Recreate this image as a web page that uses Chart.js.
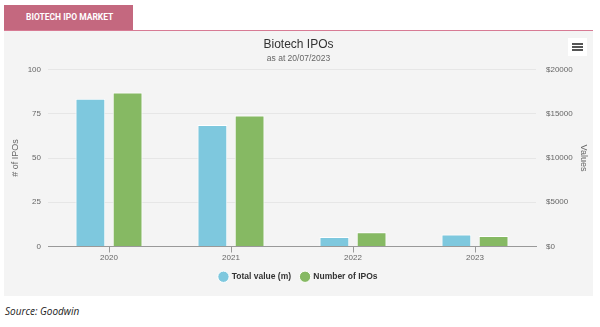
<!DOCTYPE html>
<html>
<head>
<meta charset="utf-8">
<script src="https://cdn.jsdelivr.net/npm/chart.js@4"></script>
<style>
  body { margin: 0; background: #fff; font-family: "Liberation Sans", Arial, sans-serif; }
  .tab {
    position: absolute; left: 4px; top: 5px; width: 129px; height: 25px;
    background: #c4687f; color: #fff; font: bold 8.5px "Roboto", sans-serif;
    line-height: 25px; box-sizing: border-box; padding-left: 22px;
  }
  .rule { position: absolute; left: 4px; top: 30px; width: 589px; height: 1px; background: #d77b94; }
  .box { position: absolute; left: 4px; top: 31px; width: 589px; height: 265px; background: #f4f4f4; }
  .menu {
    position: absolute; right: 6px; top: 7px; width: 19px; height: 18px; background: #fff;
  }
  .menu span { position: absolute; left: 4px; width: 11px; height: 2px; background: #555; }
  .source { position: absolute; left: 5px; top: 304px; font: italic 10px "Open Sans", sans-serif; color: #222; }
</style>
</head>
<body>
<div class="tab">BIOTECH IPO MARKET</div>
<div class="rule"></div>
<div class="box">
  <canvas id="myChart" width="589" height="265"></canvas>
  <div class="menu"><span style="top:5px"></span><span style="top:8px"></span><span style="top:11px"></span></div>
</div>
<div class="source">Source: Goodwin</div>
<script>
let years = ["2020", "2021", "2022", "2023"];
let totalValue = [16700, 13750, 1060, 1360];
let numberOfIpos = [87, 74, 8, 6];
let ipoTicks = [0, 25, 50, 75, 100];
let valueTicks = [0, 5000, 10000, 15000, 20000];

const ctx = document.getElementById("myChart");
const tickFont = { size: 8, family: "Liberation Sans" };

let myChart = new Chart(ctx, {
  type: "bar",
  data: {
    labels: years,
    datasets: [
      {
        label: "Total value (m)",
        data: totalValue,
        yAxisID: "yValue",
        backgroundColor: "#7ec8de",
        borderColor: "#ffffff",
        borderWidth: 1,
        categoryPercentage: 0.61,
        barPercentage: 0.8,
      },
      {
        label: "Number of IPOs",
        data: numberOfIpos,
        yAxisID: "yIpo",
        backgroundColor: "#86b963",
        borderColor: "#ffffff",
        borderWidth: 1,
        categoryPercentage: 0.61,
        barPercentage: 0.8,
      },
    ],
  },
  options: {
    responsive: false,
    animation: false,
    layout: { padding: { left: 0, right: 0, top: 0, bottom: 5 } },
    scales: {
      x: {
        afterFit: (axis) => { axis.height = 16; },
        grid: { display: true, drawOnChartArea: false, offset: false, color: "#999", tickLength: 6 },
        border: { display: true, color: "#999" },
        ticks: { color: "#666", font: tickFont, padding: 0 },
      },
      yIpo: {
        position: "left",
        min: 0,
        max: 100,
        afterBuildTicks: (axis) => { axis.ticks = ipoTicks.map((v) => ({ value: v })); },
        afterFit: (axis) => { axis.width = 44; },
        grid: { color: "#e6e6e6", drawTicks: false },
        border: { display: false },
        ticks: { color: "#666", font: tickFont, padding: 7 },
        title: { display: true, text: "# of IPOs", color: "#666", font: { size: 9, family: "Liberation Sans" }, padding: { top: 6 } },
      },
      yValue: {
        position: "right",
        min: 0,
        max: 20000,
        afterBuildTicks: (axis) => { axis.ticks = valueTicks.map((v) => ({ value: v })); },
        afterFit: (axis) => { axis.width = 57; },
        grid: { drawOnChartArea: false, drawTicks: false },
        border: { display: false },
        ticks: {
          color: "#666",
          font: tickFont,
          padding: 10,
          callback: (v) => "$" + v,
        },
        title: { display: true, text: "Values", color: "#666", font: { size: 9, family: "Liberation Sans" }, padding: { bottom: 10 } },
      },
    },
    plugins: {
      title: {
        display: true,
        text: "Biotech IPOs",
        color: "#333",
        font: { size: 12, weight: "normal", family: "Liberation Sans" },
        padding: { top: 6, bottom: 2 },
      },
      subtitle: {
        display: true,
        text: "as at 20/07/2023",
        color: "#666",
        font: { size: 8.5, family: "Liberation Sans" },
        padding: { top: 0, bottom: 6 },
      },
      legend: {
        position: "bottom",
        labels: {
          usePointStyle: true,
          pointStyle: "circle",
          boxWidth: 8,
          boxHeight: 8,
          color: "#333",
          font: { size: 8.5, weight: "bold", family: "Liberation Sans" },
          padding: 10,
        },
      },
      tooltip: { enabled: false },
    },
  },
});
</script>
</body>
</html>
